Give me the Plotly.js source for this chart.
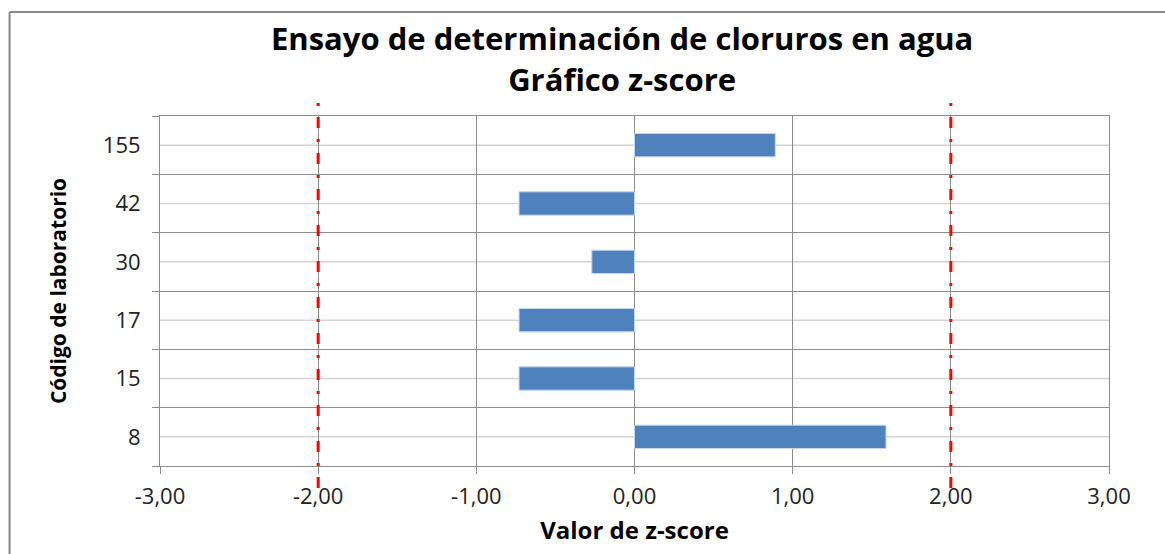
<!DOCTYPE html>
<html>
<head>
<meta charset="utf-8">
<script src="https://cdn.plot.ly/plotly-3.0.1.min.js"></script>
<style>
html,body{margin:0;padding:0;background:#fff;}
#chart{width:1165px;height:554px;}
</style>
</head>
<body>
<div id="chart"></div>
<script>
const labCodes = ["8", "15", "17", "30", "42", "155"];
const zScores = [1.59, -0.73, -0.73, -0.27, -0.73, 0.89];
const limits = [-2, 2];
const xTicks = [-3, -2, -1, 0, 1, 2, 3];
const xTickLabels = xTicks.map(v => v.toFixed(2).replace('.', ','));

const trace = {
  type: 'bar',
  orientation: 'h',
  y: labCodes,
  x: zScores,
  marker: {color: '#4F81BD', line: {color: '#C6D6EA', width: 1}},
  hoverinfo: 'x+y'
};

const shapes = [];
// light gridlines at category centres (category index positions)
labCodes.forEach((c, i) => {
  shapes.push({type: 'line', xref: 'paper', yref: 'y', x0: 0, x1: 1, y0: i, y1: i,
    line: {color: '#D3D3D3', width: 1.5}, layer: 'below'});
});
// red limit lines
limits.forEach(v => {
  shapes.push({type: 'line', xref: 'x', yref: 'paper', x0: v, x1: v, y0: -0.063, y1: 1.05,
    line: {color: '#FF0000', width: 3, dash: '11px,11px,3px,11px'}, layer: 'above'});
});
// outer border (top and left)
shapes.push({type: 'line', xref: 'paper', yref: 'paper', x0: -0.1585, x1: 1.1, y0: 1.297, y1: 1.297,
  line: {color: '#888888', width: 2}});
shapes.push({type: 'line', xref: 'paper', yref: 'paper', x0: -0.1585, x1: -0.1585, y0: 1.297, y1: -0.3,
  line: {color: '#888888', width: 2}});

const layout = {
  width: 1165, height: 554,
  margin: {l: 160, r: 56, t: 116, b: 88},
  paper_bgcolor: '#ffffff',
  plot_bgcolor: '#ffffff',
  showlegend: false,
  bargap: 0.6,
  font: {family: '"Open Sans", sans-serif', color: '#222'},
  title: {
    text: '<b>Ensayo de determinación de cloruros en agua<br>Gráfico z-score</b>',
    font: {size: 31, color: '#000', family: '"Open Sans", sans-serif'},
    x: 0.534, xref: 'container', xanchor: 'center',
    y: 0.909, yref: 'container', yanchor: 'top'
  },
  xaxis: {
    range: [-3, 3],
    tickvals: xTicks,
    ticktext: xTickLabels,
    showgrid: true, gridcolor: '#8C8C8C', gridwidth: 1,
    zeroline: false,
    ticks: 'outside', ticklen: 7, tickcolor: '#8C8C8C', tickwidth: 1,
    tickfont: {size: 22, color: '#222'},
    ticklabelstandoff: 4,
    showline: true, linecolor: '#8C8C8C', linewidth: 1, mirror: true,
    title: {text: '<b>Valor de z-score</b>', font: {size: 24, color: '#000'}, standoff: 12},
    fixedrange: true
  },
  yaxis: {
    type: 'category',
    categoryorder: 'array', categoryarray: labCodes,
    range: [-0.5, labCodes.length - 0.5],
    tickson: 'boundaries',
    showgrid: true, gridcolor: '#8C8C8C', gridwidth: 1,
    ticks: 'outside', ticklen: 7, tickcolor: '#8C8C8C', tickwidth: 1,
    tickfont: {size: 22, color: '#222'},
    ticklabelstandoff: 14,
    showline: true, linecolor: '#8C8C8C', linewidth: 1, mirror: true,
    title: {text: '<b>Código de laboratorio</b>', font: {size: 21, color: '#000'}, standoff: 30},
    fixedrange: true
  },
  shapes: shapes
};

Plotly.newPlot('chart', [trace], layout, {displayModeBar: false, staticPlot: true});
</script>
</body>
</html>
